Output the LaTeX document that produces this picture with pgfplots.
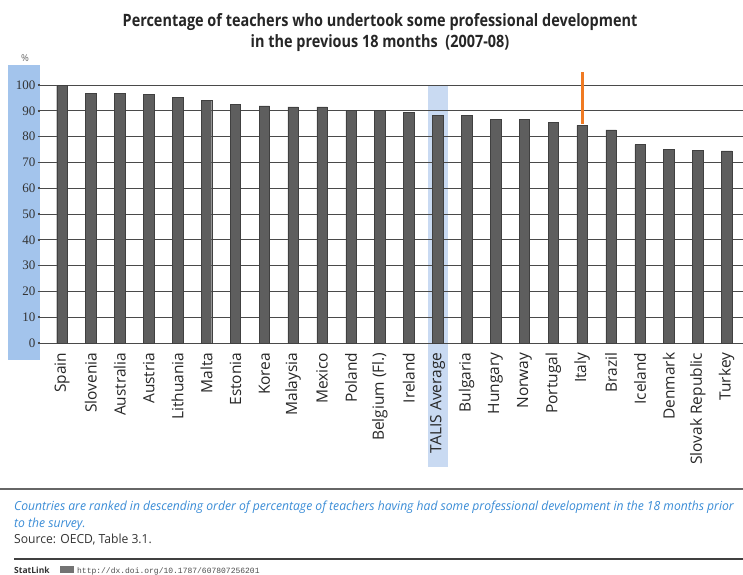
\documentclass[border=0pt]{standalone}
\usepackage{pgfplots}
\pgfplotsset{compat=1.18}
\usepackage{fontspec}
\setmainfont{Open Sans}
\newfontfamily\titlefont[FakeStretch=0.85]{Open Sans}
\newfontfamily\notefont[FakeStretch=0.97]{Open Sans}
\newfontfamily\tickfont{Liberation Serif}
\newfontfamily\urlfont{Liberation Mono}

\definecolor{barfill}{HTML}{5E5E5E}
\definecolor{stripblue}{HTML}{A3C4EC}
\definecolor{talisblue}{HTML}{C9DAF2}
\definecolor{gridgray}{HTML}{4A4A4A}
\definecolor{markorange}{HTML}{F07A22}
\definecolor{noteblue}{HTML}{3A8CD6}

\begin{document}
\begin{tikzpicture}

% title
\node[align=center, font=\titlefont\bfseries\fontsize{17bp}{21bp}\selectfont, text=black!85]
  at (380bp,-33bp) {Percentage of teachers who undertook some professional development\\
  in the previous 18 months~~(2007-08)};

\begin{axis}[
  set layers,
  at={(40bp,-343bp)}, anchor=south west,
  scale only axis, width=703bp, height=278.6bp,
  xmin=-0.761, xmax=23.564, ymin=0, ymax=108,
  clip=false,
  axis line style={draw=none},
  ymajorgrids, grid style={gridgray, line width=0.9bp},
  ytick={0,10,...,100},
  ytick style={draw=gridgray, line width=1.6bp},
  major tick length=2.5bp,
  tick align=outside,
  xtick={0,...,23},
  xticklabels={Spain, Slovenia, Australia, Austria, Lithuania, Malta, Estonia, Korea,
    Malaysia, Mexico, Poland, Belgium (Fl.), Ireland, TALIS Average, Bulgaria, Hungary,
    Norway, Portugal, Italy, Brazil, Iceland, Denmark, Slovak Republic, Turkey},
  xtick style={draw=none},
  /pgf/number format/assume math mode=true,
  yticklabel style={font=\tickfont\fontsize{13bp}{13bp}\selectfont, text=black!80, inner sep=0pt, xshift=-2bp},
  xticklabel style={font=\fontsize{15.5bp}{15.5bp}\selectfont, text=black!85, rotate=90, anchor=east, inner sep=0pt},
  xticklabel shift=7bp,
]
\begin{pgfonlayer}{axis background}
  % shaded band behind the y tick labels
  \fill[stripblue] (axis cs:-1.868,-6.6) rectangle (axis cs:-0.761,107.75);
  % highlighted average column
  \fill[talisblue] (axis cs:12.66,-48) rectangle (axis cs:13.34,100);
\end{pgfonlayer}

\addplot[ybar, bar width=10.5bp, fill=barfill, draw=black!75, line width=0.4bp] coordinates {
  (0,100.0) (1,96.8) (2,96.8) (3,96.4) (4,95.1) (5,94.2) (6,92.6) (7,91.9)
  (8,91.5) (9,91.5) (10,90.1) (11,90.1) (12,89.5) (13,88.3) (14,88.3) (15,86.6)
  (16,86.6) (17,85.5) (18,84.4) (19,82.6) (20,76.9) (21,75.2) (22,74.8) (23,74.5)
};

% marker above Italy
\addplot[markorange, line width=3bp] coordinates {(18,85.0) (18,105.2)};

\node[font=\fontsize{9.5bp}{9.5bp}\selectfont, text=black!60] at (axis cs:-1.28,110.5) {\%};
\end{axis}

% notes under the chart
\draw[black!60, line width=2bp] (0,-489bp) -- (743bp,-489bp);
\node[anchor=base west, inner sep=0pt, text=noteblue, font=\notefont\itshape\fontsize{12.5bp}{12.5bp}\selectfont]
  at (14bp,-510bp) {Countries are ranked in descending order of percentage of teachers having had some professional development in the 18 months prior};
\node[anchor=base west, inner sep=0pt, text=noteblue, font=\notefont\itshape\fontsize{12.5bp}{12.5bp}\selectfont]
  at (14bp,-527bp) {to the survey.};
\node[anchor=base west, inner sep=0pt, text=black!80, font=\notefont\fontsize{12.5bp}{12.5bp}\selectfont]
  at (14bp,-543bp) {Source: OECD, Table 3.1.};
\draw[black!75, line width=1.5bp] (14bp,-559bp) -- (743bp,-559bp);
\node[anchor=base west, inner sep=0pt, font=\bfseries\fontsize{8.5bp}{8.5bp}\selectfont, text=black!80]
  at (14bp,-573bp) {StatLink};
\fill[black!55] (60bp,-573bp) rectangle (74bp,-566bp);
\node[anchor=base west, inner sep=0pt, font=\urlfont\fontsize{8bp}{8bp}\selectfont, text=black!70]
  at (77bp,-573bp) {http://dx.doi.org/10.1787/607807256201};

% page extent
\pgfresetboundingbox
\useasboundingbox (0,0) rectangle (743bp,-575bp);
\end{tikzpicture}
\end{document}
